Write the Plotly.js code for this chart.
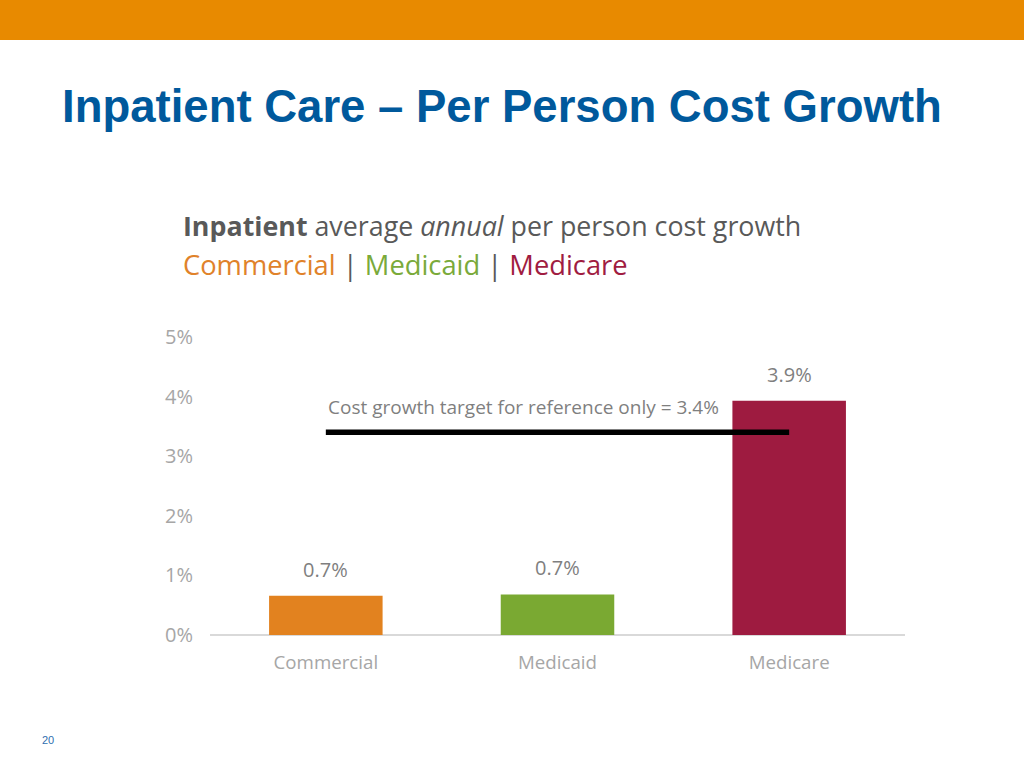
<!DOCTYPE html>
<html>
<head>
<meta charset="utf-8">
<script src="https://cdn.plot.ly/plotly-3.0.1.min.js"></script>
<style>
html,body{margin:0;padding:0;background:#fff;}
#chart{width:1024px;height:768px;}
</style>
</head>
<body>
<div id="chart"></div>
<script>
// Data
const categories = ['Commercial', 'Medicaid', 'Medicare'];
const growthValues = [0.66, 0.68, 3.93];
const barColors = ['#e2821f', '#7aa932', '#9e1b40'];
const targetValue = 3.4;
const targetLabel = 'Cost growth target for reference only = 3.4%';
const yTickVals = [0, 1, 2, 3, 4, 5];
const yTickText = ['0%', '1%', '2%', '3%', '4%', '5%'];

const FONT = '"Open Sans", Lato, sans-serif';

const barTrace = {
  type: 'bar',
  x: categories,
  y: growthValues,
  width: 0.49,
  marker: {color: barColors},
  hoverinfo: 'skip',
  showlegend: false
};

const targetTrace = {
  type: 'scatter',
  mode: 'lines',
  x: [categories[0], categories[categories.length - 1]],
  y: [targetValue, targetValue],
  line: {color: '#000000', width: 5.5},
  hoverinfo: 'skip',
  showlegend: false
};

const labelAnnotations = categories.map((c, i) => ({
  x: c, y: growthValues[i], xref: 'x', yref: 'y',
  text: growthValues[i].toFixed(1) + '%',
  showarrow: false, yanchor: 'bottom', yshift: 11,
  font: {family: FONT, size: 20, color: '#7f7f7f'}
}));

const layout = {
  width: 1024, height: 768,
  paper_bgcolor: '#ffffff', plot_bgcolor: '#ffffff',
  margin: {l: 210, r: 119, t: 337, b: 133},
  bargap: 0.51,
  title: {
    text: '<b>Inpatient Care – Per Person Cost Growth</b>',
    xref: 'container', yref: 'container',
    x: 62 / 1024, xanchor: 'left',
    y: 1 - 106 / 768, yanchor: 'middle',
    font: {family: 'Arial, "Liberation Sans", sans-serif', size: 45.5, color: '#00599c'}
  },
  xaxis: {
    type: 'category',
    range: [-0.5, 2.5],
    showgrid: false, zeroline: false,
    showline: false,
    ticks: '',
    tickfont: {family: FONT, size: 18.7, color: '#a6a6a6'},
    ticklabelstandoff: 14,
    fixedrange: true
  },
  yaxis: {
    range: [0, 5],
    tickvals: yTickVals, ticktext: yTickText,
    showgrid: false, zeroline: true, zerolinecolor: '#d9d9d9', zerolinewidth: 2,
    showline: false, ticks: '',
    tickfont: {family: FONT, size: 20, color: '#a6a6a6'},
    ticklabelstandoff: 16,
    fixedrange: true
  },
  shapes: [
    {type: 'rect', xref: 'paper', yref: 'paper',
     x0: -210 / 695, x1: (1024 - 210) / 695,
     y0: (635 - 40) / 298, y1: 635 / 298,
     fillcolor: '#e88a00', line: {width: 0}, layer: 'above'}
  ],
  annotations: [
    {xref: 'paper', yref: 'paper', x: (181 - 210) / 695, y: (635 - 226) / 298,
     xanchor: 'left', yanchor: 'middle', showarrow: false,
     text: '<b>Inpatient</b> average <i>annual</i> per person cost growth',
     font: {family: FONT, size: 26.8, color: '#595959'}},
    {xref: 'paper', yref: 'paper', x: (181 - 210) / 695, y: (635 - 264) / 298,
     xanchor: 'left', yanchor: 'middle', showarrow: false,
     text: '<span style="color:#e0822a">Commercial</span> | <span style="color:#7aaa3a">Medicaid</span> | <span style="color:#a01c41">Medicare</span>',
     font: {family: FONT, size: 27.3, color: '#595959'}},
    {xref: 'x', yref: 'y', x: 0, y: 3.83,
     xanchor: 'left', yanchor: 'middle', showarrow: false,
     text: targetLabel,
     font: {family: FONT, size: 19, color: '#7f7f7f'}},
    {xref: 'paper', yref: 'paper', x: (40 - 210) / 695, y: (635 - 740) / 298,
     xanchor: 'left', yanchor: 'middle', showarrow: false,
     text: '20',
     font: {family: 'Arial, "Liberation Sans", sans-serif', size: 11, color: '#2f6fb0'}}
  ].concat(labelAnnotations)
};

Plotly.newPlot('chart', [barTrace, targetTrace], layout, {displayModeBar: false, staticPlot: true});
</script>
</body>
</html>
